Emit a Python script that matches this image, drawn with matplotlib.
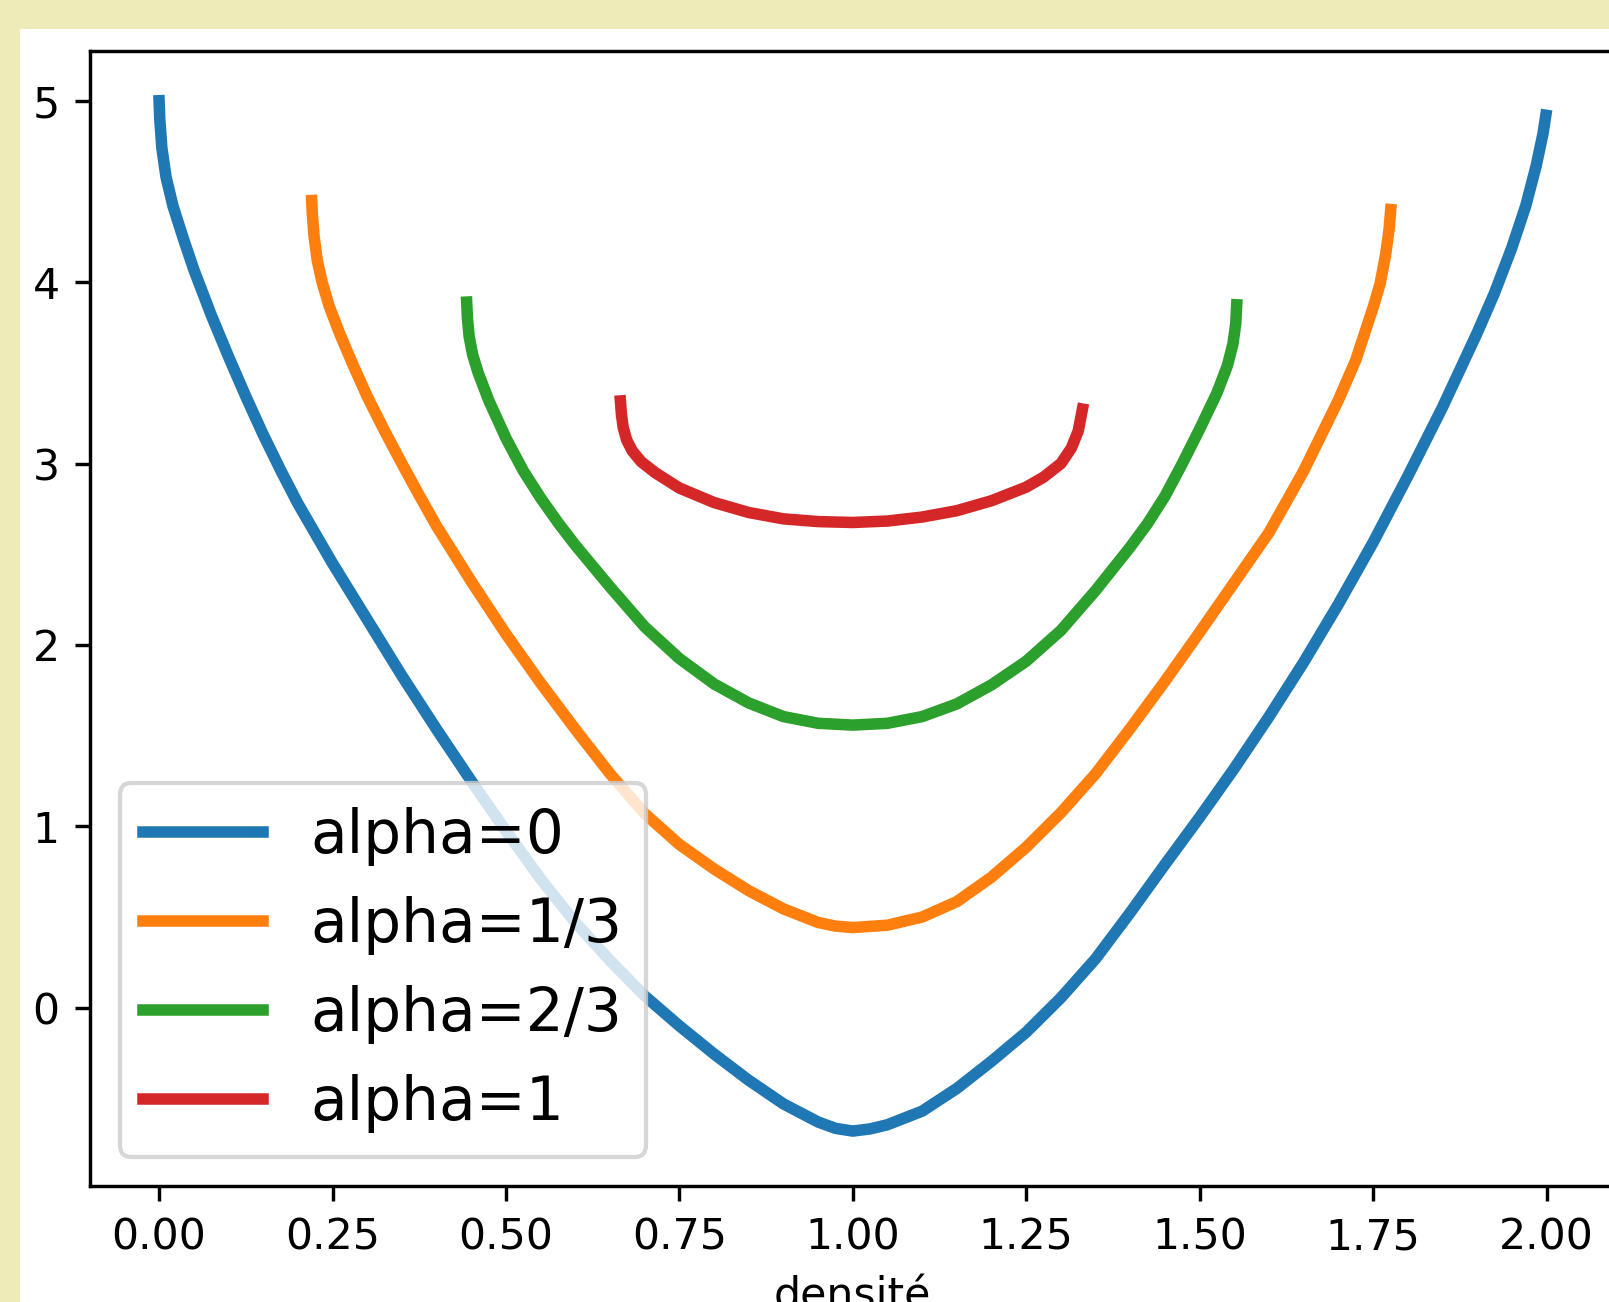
import matplotlib
matplotlib.use("Agg")
import matplotlib.pyplot as plt
from matplotlib.patches import Rectangle

# valeurs (densité -> valeur), une courbe par alpha
x_a0 = [0.000, 0.001, 0.004, 0.010, 0.020, 0.035, 0.050, 0.075, 0.100, 0.125,
        0.150, 0.175, 0.200, 0.250, 0.300, 0.350, 0.400, 0.450, 0.500, 0.550,
        0.600, 0.650, 0.700, 0.750, 0.800, 0.850, 0.900, 0.950, 0.975, 1.000,
        1.025, 1.050, 1.100, 1.150, 1.200, 1.250, 1.300, 1.350, 1.400, 1.450,
        1.500, 1.550, 1.600, 1.650, 1.700, 1.750, 1.800, 1.850, 1.900, 1.925,
        1.950, 1.970, 1.985, 1.995, 1.999]
y_a0 = [5.00, 4.90, 4.74, 4.58, 4.42, 4.24, 4.07, 3.82, 3.59, 3.37,
        3.16, 2.965, 2.78, 2.45, 2.14, 1.83, 1.535, 1.25, 0.975, 0.71,
        0.47, 0.26, 0.065, -0.10, -0.255, -0.40, -0.53, -0.63, -0.665, -0.68,
        -0.668, -0.645, -0.57, -0.445, -0.295, -0.135, 0.055, 0.27, 0.525, 0.79,
        1.05, 1.32, 1.605, 1.905, 2.225, 2.565, 2.93, 3.31, 3.72, 3.94,
        4.19, 4.42, 4.64, 4.82, 4.92]

x_a13 = [0.2200, 0.2210, 0.2235, 0.2280, 0.2350, 0.2450, 0.2600, 0.2800, 0.3000,
         0.3250, 0.3500, 0.3750, 0.4000, 0.4500, 0.5000, 0.5500, 0.6000, 0.6500,
         0.7000, 0.7500, 0.8000, 0.8500, 0.9000, 0.9500, 0.9750, 1.0000, 1.0500,
         1.1000, 1.1500, 1.2000, 1.2500, 1.3000, 1.3500, 1.4000, 1.4500, 1.5000,
         1.5500, 1.6000, 1.6500, 1.7000, 1.7250, 1.7500, 1.7600, 1.7680, 1.7730,
         1.7754]
y_a13 = [4.45, 4.37, 4.25, 4.12, 4.00, 3.87, 3.72, 3.54, 3.37,
         3.18, 3.00, 2.825, 2.655, 2.35, 2.06, 1.79, 1.535, 1.29,
         1.07, 0.90, 0.765, 0.645, 0.545, 0.47, 0.45, 0.442, 0.455,
         0.50, 0.585, 0.72, 0.885, 1.075, 1.29, 1.54, 1.80, 2.07,
         2.345, 2.62, 2.96, 3.35, 3.57, 3.86, 3.99, 4.15, 4.29,
         4.40]

x_a23 = [0.4434, 0.4445, 0.4470, 0.4520, 0.4600, 0.4750, 0.5000, 0.5250, 0.5500,
         0.5750, 0.6000, 0.6500, 0.7000, 0.7500, 0.8000, 0.8500, 0.9000, 0.9500,
         1.0000, 1.0500, 1.1000, 1.1500, 1.2000, 1.2500, 1.3000, 1.3500, 1.4000,
         1.4250, 1.4500, 1.4750, 1.5000, 1.5250, 1.5400, 1.5480, 1.5520, 1.5534]
y_a23 = [3.89, 3.80, 3.70, 3.60, 3.50, 3.35, 3.14, 2.96, 2.81,
         2.675, 2.55, 2.32, 2.10, 1.925, 1.785, 1.68, 1.605, 1.568,
         1.558, 1.568, 1.605, 1.675, 1.78, 1.91, 2.08, 2.30, 2.54,
         2.67, 2.82, 3.00, 3.19, 3.39, 3.54, 3.66, 3.77, 3.875]

x_a1 = [0.6650, 0.6665, 0.6690, 0.6740, 0.6820, 0.6950, 0.7150, 0.7500, 0.8000,
        0.8500, 0.9000, 0.9500, 1.0000, 1.0500, 1.1000, 1.1500, 1.2000, 1.2500,
        1.2750, 1.3000, 1.3150, 1.3250, 1.3310]
y_a1 = [3.345, 3.27, 3.20, 3.13, 3.07, 3.01, 2.95, 2.865, 2.785,
        2.73, 2.695, 2.68, 2.675, 2.683, 2.705, 2.74, 2.795, 2.87,
        2.925, 3.00, 3.085, 3.18, 3.30]

series = [(x_a0, y_a0, "alpha=0"),
          (x_a13, y_a13, "alpha=1/3"),
          (x_a23, y_a23, "alpha=2/3"),
          (x_a1, y_a1, "alpha=1")]

W, H, DPI = 1609, 1302, 307
fig = plt.figure(figsize=(W / DPI, H / DPI), dpi=DPI, facecolor="#EEEBB8")

# zone blanche de la capture, sous les axes
fig.patches.append(Rectangle((20.4 / W, 0), 1, 1 - 28.5 / H,
                             transform=fig.transFigure, facecolor="white",
                             edgecolor="none", zorder=-10))

ax = fig.add_axes([89.7 / W, (H - 1186.4) / H, 1526.2 / W, 1135.0 / H])
for xs, ys, lab in series:
    ax.plot(xs, ys, lw=2.7, label=lab)

ax.set_xlim(-0.1, 2.1)
ax.set_ylim(-0.985, 5.272)
ax.set_xlabel("densité")
ax.legend(loc="lower left", fontsize=14)

fig.savefig("out.png", dpi=DPI, facecolor=fig.get_facecolor())
